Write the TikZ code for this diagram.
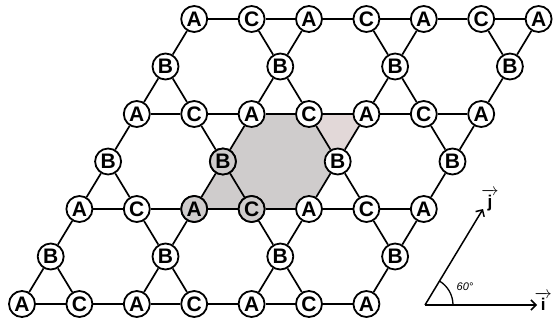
\documentclass[tikz,border=0pt]{standalone}
\usepackage{fontspec}
\setmainfont{Liberation Sans}
\usepackage{amsmath}
\usetikzlibrary{arrows.meta,backgrounds}
\definecolor{cellgray}{RGB}{207,204,204}
\definecolor{cellpink}{RGB}{226,216,216}
\begin{document}
\begin{tikzpicture}[x=1pt,y=1pt,
  site/.style={circle,draw,line width=1.8pt,fill=white,minimum size=26pt,inner sep=0pt,font=\fontsize{21}{21}\selectfont\bfseries},
  basis/.style={site,fill=cellgray},
  bond/.style={line width=1.7pt},
  axis/.style={line width=1.5pt,-{Straight Barb[length=5pt,width=10pt,line width=1.5pt]}},
  veclabel/.style={inner sep=0pt,font=\fontsize{17}{17}\selectfont\bfseries}]
\useasboundingbox (0,0) rectangle (553,322);

% sites on A/C rows
\foreach \r in {0,2,4,6} {
  \foreach \k in {0,...,6} {
    \pgfmathtruncatemacro{\u}{\r+2*\k}
    \pgfmathtruncatemacro{\parity}{mod(\k,2)}
    \ifnum\parity=0 \def\lab{A}\else\def\lab{C}\fi
    \node[site] (n\r-\u) at ({22+28.7*\u},{18+47.5*\r}) {\lab};
  }
}
% B sites
\foreach \r in {1,3,5} {
  \foreach \k in {0,...,3} {
    \pgfmathtruncatemacro{\u}{\r+4*\k}
    \node[site] (n\r-\u) at ({22+28.7*\u},{18+47.5*\r}) {B};
  }
}
% basis sites shaded
\node[basis] at (n2-6) {A};
\node[basis] at (n2-8) {C};
\node[basis] at (n3-7) {B};

\begin{scope}[on background layer]
  \fill[cellgray] (n3-7.center) -- (n4-8.center) -- (n4-10.center) -- (n3-11.center)
      -- (n2-10.center) -- (n2-8.center) -- (n2-6.center) -- cycle;
  \fill[cellpink] (n4-10.center) -- (n4-12.center) -- (n3-11.center) -- cycle;
  % horizontal bonds
  \foreach \r in {0,2,4,6} {
    \foreach \k in {0,...,5} {
      \pgfmathtruncatemacro{\u}{\r+2*\k}
      \pgfmathtruncatemacro{\v}{\u+2}
      \draw[bond] (n\r-\u) -- (n\r-\v);
    }
  }
  % bonds of B sites
  \foreach \r in {1,3,5} {
    \foreach \k in {0,...,3} {
      \pgfmathtruncatemacro{\u}{\r+4*\k}
      \pgfmathtruncatemacro{\rd}{\r-1}
      \pgfmathtruncatemacro{\ru}{\r+1}
      \pgfmathtruncatemacro{\ul}{\u-1}
      \pgfmathtruncatemacro{\ur}{\u+1}
      \draw[bond] (n\r-\u) -- (n\rd-\ul);
      \draw[bond] (n\r-\u) -- (n\ru-\ur);
      \ifnum\k<3 \draw[bond] (n\r-\u) -- (n\rd-\ur); \fi
      \ifnum\k>0 \draw[bond] (n\r-\u) -- (n\ru-\ul); \fi
    }
  }
\end{scope}

% basis vectors
\coordinate (o) at (425,17);
\coordinate (ie) at (537,17);
\coordinate (je) at (483,113);
\coordinate (a0) at (453,17);
\draw[axis] (o) -- (ie);
\draw[axis] (o) -- (je);
\draw[line width=1.3pt] (a0) arc[start angle=0,end angle=59,radius=28];
\node[font=\fontsize{11}{11}\selectfont\itshape] (ang) at (465,35) {60°};
\node[veclabel,anchor=east] (il) at (552,21) {$\overrightarrow{\text{i}}$};
\node[veclabel] (jl) at (490,122) {$\overrightarrow{\text{j}}$};
\end{tikzpicture}
\end{document}
